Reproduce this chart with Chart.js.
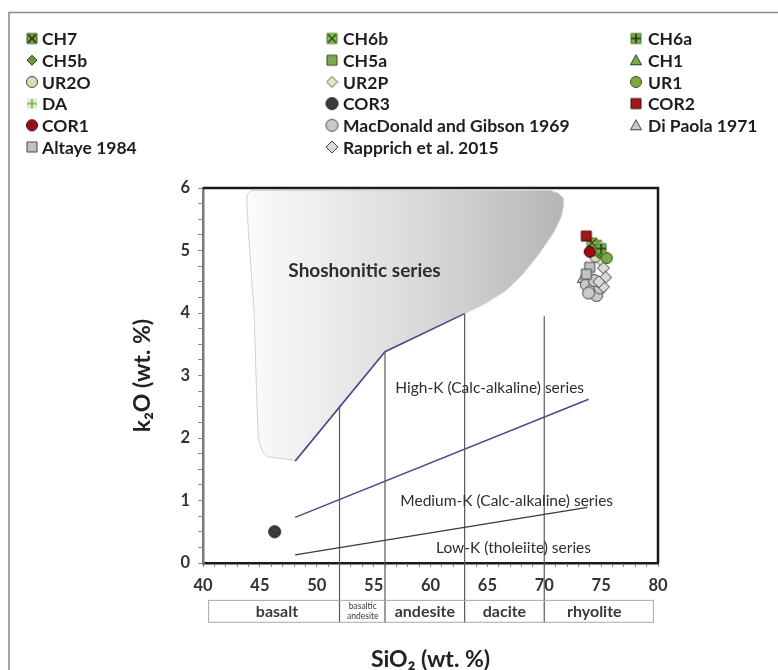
<!DOCTYPE html>
<html>
<head>
<meta charset="utf-8">
<script src="https://cdn.jsdelivr.net/npm/chart.js@4.4.1/dist/chart.umd.min.js"></script>
<style>
  html, body { margin: 0; padding: 0; background: #fff; }
  #wrap { width: 778px; height: 670px; position: relative; }
</style>
</head>
<body>
<div id="wrap"><canvas id="chart" width="778" height="670"></canvas></div>
<script>
// ---- values ----
const sampleNames = ['CH7', 'CH6b', 'CH6a', 'CH5b', 'CH5a', 'CH1', 'UR2O', 'UR2P', 'UR1', 'DA',
  'COR3', 'COR2', 'COR1', 'MacDonald and Gibson 1969', 'Di Paola 1971', 'Altaye 1984', 'Rapprich et al. 2015'];
const sampleSiO2 = [[74.6], [74.2], [75.0], [74.8], [74.4], [75.0], [74.5], [74.9], [75.5], [74.8],
  [46.3], [73.7], [74.0], [73.7, 74.2, 74.6, 73.9, 74.9, 74.4], [73.4], [74.0, 73.7], [75.2, 75.4, 75.2, 74.8]];
const sampleK2O = [[5.08], [5.12], [5.03], [4.95], [5.0], [4.92], [4.9], [4.85], [4.88], [5.06],
  [0.5], [5.23], [4.98], [4.45, 4.37, 4.28, 4.32, 4.40, 4.52], [4.56], [4.73, 4.62], [4.72, 4.57, 4.42, 4.5]];

// shoshonitic field outline
const shoshSiO2 = [48.1, 46.8, 45.7, 45.3, 45.0, 44.86, 44.66, 44.5, 44.1, 43.85, 43.9, 44.2,
  70.5, 71.2, 71.65, 71.7, 71.5, 70.8, 69.6, 68.2, 66.7, 64.9, 63.0, 56.0];
const shoshK2O = [1.64, 1.675, 1.7, 1.76, 1.9, 2.0, 3.0, 4.0, 5.0, 5.75, 5.9, 5.96,
  5.96, 5.92, 5.84, 5.73, 5.54, 5.28, 4.96, 4.64, 4.37, 4.16, 3.99, 3.38];

// series boundaries
const shoshLineSiO2 = [48.1, 56, 63];
const shoshLineK2O = [1.63, 3.38, 3.99];
const highKSiO2 = [48.1, 73.9];
const highKK2O = [0.73, 2.62];
const lowKSiO2 = [48.1, 73.8];
const lowKK2O = [0.13, 0.89];

// rock name dividers
const dividerSiO2 = [52, 56, 63, 70];
const dividerTopK2O = [2.52, 3.38, 3.99, 3.95];
const dividerBottomK2O = -0.95;

const rockNames = ['basalt', 'basaltic andesite', 'andesite', 'dacite', 'rhyolite'];
const rockCenters = [46.5, 54.05, 59.5, 66.5, 74.4];

const seriesLabels = ['Shoshonitic series', 'High-K (Calc-alkaline) series', 'Medium-K (Calc-alkaline) series', 'Low-K (tholeiite) series'];
const seriesLabelSiO2 = [54.2, 65.2, 66.7, 67.3];
const seriesLabelK2O = [4.67, 2.8, 1.0, 0.24];

// ---- marker styles ----
const markerStyles = [
  { shape: 'square', fill: '#78a548', stroke: '#3d5a22', inner: 'x', innerColor: '#1f2f12' },
  { shape: 'square', fill: '#8cc05a', stroke: '#4c7a2a', inner: 'x', innerColor: '#2f4f18' },
  { shape: 'square', fill: '#7aaa42', stroke: '#4c7a2a', inner: '+', innerColor: '#22361a' },
  { shape: 'diamond', fill: '#6a9a3a', stroke: '#2e3e22', size: 10 },
  { shape: 'square', fill: '#7aaa4a', stroke: '#3a4a2a' },
  { shape: 'triangle', fill: '#7aaa4a', stroke: '#2e3e22' },
  { shape: 'circle', fill: '#cfe3b0', stroke: '#444' },
  { shape: 'diamond', fill: '#dcebc0', stroke: '#555', size: 11 },
  { shape: 'circle', fill: '#7aaa40', stroke: '#3c4c2c' },
  { shape: 'square', fill: '#dcefc8', stroke: null, inner: '+', innerColor: '#7fb050' },
  { shape: 'circle', fill: '#3c3c3c', stroke: '#1c1c1c', size: 13 },
  { shape: 'square', fill: '#a01818', stroke: '#4a0c0c' },
  { shape: 'circle', fill: '#9a1010', stroke: '#3a0606' },
  { shape: 'circle', fill: '#cacaca', stroke: '#444', size: 13 },
  { shape: 'triangle', fill: '#c8c8c8', stroke: '#444' },
  { shape: 'square', fill: '#c2c2c2', stroke: '#444' },
  { shape: 'diamond', fill: '#d8d8d8', stroke: '#444', size: 12 }
];
const drawOrder = [10, 9, 8, 12, 11, 13, 12, 12, 11, 9, 5, 4, 5, 30, 31, 22, 28];

function makeMarker(m) {
  const s = m.size || 12;
  const c = document.createElement('canvas');
  c.width = c.height = s + 2;
  const g = c.getContext('2d');
  const h = (s + 2) / 2, r = s / 2;
  g.fillStyle = m.fill;
  g.strokeStyle = m.stroke || m.fill;
  g.lineWidth = 1;
  g.beginPath();
  if (m.shape === 'circle') g.arc(h, h, r - 0.5, 0, Math.PI * 2);
  else if (m.shape === 'square') g.rect(h - r + 1, h - r + 1, s - 2, s - 2);
  else if (m.shape === 'diamond') { g.moveTo(h, h - r); g.lineTo(h + r, h); g.lineTo(h, h + r); g.lineTo(h - r, h); g.closePath(); }
  else if (m.shape === 'triangle') { g.moveTo(h, h - r + 0.5); g.lineTo(h + r - 0.5, h + r * 0.75); g.lineTo(h - r + 0.5, h + r * 0.75); g.closePath(); }
  g.fill();
  if (m.stroke) g.stroke();
  if (m.inner) {
    const k = r - 2.2;
    g.strokeStyle = m.innerColor;
    g.lineWidth = 1.6;
    g.beginPath();
    if (m.inner === 'x') { g.moveTo(h - k, h - k); g.lineTo(h + k, h + k); g.moveTo(h + k, h - k); g.lineTo(h - k, h + k); }
    else { g.moveTo(h, h - k - 1); g.lineTo(h, h + k + 1); g.moveTo(h - k - 1, h); g.lineTo(h + k + 1, h); }
    g.stroke();
  }
  return c;
}
const markers = markerStyles.map(makeMarker);

const pts = (xs, ys) => xs.map((x, i) => ({ x: x, y: ys[i] }));

const FONT = 'Lato, "Open Sans", sans-serif';

// ---- datasets ----
const datasets = [];
datasets.push({
  label: 'shoshonitic field',
  type: 'line',
  data: pts(shoshSiO2, shoshK2O),
  fill: 'shape',
  borderColor: '#d2d2d2',
  borderWidth: 1,
  pointRadius: 0,
  tension: 0,
  order: 100,
  backgroundColor: ctx => {
    const chart = ctx.chart;
    if (!chart.chartArea) return '#ddd';
    const xs = chart.scales.x;
    const gr = chart.ctx.createLinearGradient(xs.getPixelForValue(44), 0, xs.getPixelForValue(72), 0);
    gr.addColorStop(0, '#fbfbfb');
    gr.addColorStop(0.55, '#d9d9d9');
    gr.addColorStop(1, '#b4b4b4');
    return gr;
  }
});
datasets.push({ label: 'shoshonitic boundary', type: 'line', data: pts(shoshLineSiO2, shoshLineK2O),
  borderColor: '#4b4a8f', borderWidth: 1.6, pointRadius: 0, fill: false, order: 50 });
datasets.push({ label: 'high-K boundary', type: 'line', data: pts(highKSiO2, highKK2O),
  borderColor: '#4b4a8f', borderWidth: 1.6, pointRadius: 0, fill: false, order: 50 });
datasets.push({ label: 'low-K boundary', type: 'line', data: pts(lowKSiO2, lowKK2O),
  borderColor: '#3a3a3a', borderWidth: 1.5, pointRadius: 0, fill: false, order: 50 });
dividerSiO2.forEach((x, i) => {
  datasets.push({ label: 'divider ' + x, type: 'line',
    data: pts([x, x], [dividerBottomK2O, dividerTopK2O[i]]),
    borderColor: '#5a5a5a', borderWidth: 1.2, pointRadius: 0, fill: false, clip: false, order: 60 });
});
sampleNames.forEach((name, i) => {
  datasets.push({
    label: name,
    type: 'scatter',
    data: pts(sampleSiO2[i], sampleK2O[i]),
    pointStyle: markers[i],
    pointRadius: 6,
    order: drawOrder[i]
  });
});

// ---- plugins ----
const decorPlugin = {
  id: 'decor',
  afterDatasetsDraw(chart) {
    const { ctx, chartArea: a, scales: { x, y } } = chart;
    ctx.save();
    ctx.fillStyle = '#2e2e2e';
    ctx.textAlign = 'center';
    ctx.textBaseline = 'middle';
    seriesLabels.forEach((t, i) => {
      ctx.font = (i === 0 ? 'bold 19px ' : '15.5px ') + FONT;
      ctx.fillText(t, x.getPixelForValue(seriesLabelSiO2[i]), y.getPixelForValue(seriesLabelK2O[i]));
    });
    // plot frame
    ctx.strokeStyle = '#1a1a1a';
    ctx.lineWidth = 2.5;
    ctx.beginPath();
    ctx.moveTo(a.left, a.top);
    ctx.lineTo(a.right, a.top);
    ctx.lineTo(a.right, a.bottom);
    ctx.stroke();
    ctx.restore();
  },
  afterDraw(chart) {
    const { ctx, scales: { x, y } } = chart;
    ctx.save();
    // rock name box
    const bx0 = x.getPixelForValue(40.45), bx1 = x.getPixelForValue(79.55);
    const by0 = y.getPixelForValue(-0.59), by1 = y.getPixelForValue(-0.94);
    ctx.strokeStyle = '#a8a8a8';
    ctx.lineWidth = 1;
    ctx.strokeRect(bx0 + 0.5, by0 + 0.5, bx1 - bx0, by1 - by0);
    ctx.fillStyle = '#3a3a3a';
    ctx.textAlign = 'center';
    ctx.textBaseline = 'middle';
    const ym = (by0 + by1) / 2;
    rockNames.forEach((t, i) => {
      const cx = x.getPixelForValue(rockCenters[i]);
      if (t === 'basaltic andesite') {
        ctx.font = '8.5px ' + FONT;
        ctx.fillText('basaltic', cx, ym - 5);
        ctx.fillText('andesite', cx, ym + 5);
      } else {
        ctx.font = 'bold 16px ' + FONT;
        ctx.fillText(t, cx, ym + 1);
      }
    });
    // legend
    const colText = [42, 343, 648], colMark = [32, 332, 636];
    ctx.textAlign = 'left';
    ctx.font = 'bold 17.5px ' + FONT;
    ctx.fillStyle = '#1e1e1e';
    sampleNames.forEach((name, i) => {
      const c = i % 3, r = Math.floor(i / 3);
      const yy = 38.5 + r * 21.7;
      const img = markers[i];
      ctx.drawImage(img, colMark[c] - img.width / 2, yy - img.height / 2);
      ctx.fillText(name, colText[c], yy + 1);
    });
    // outer figure frame
    ctx.strokeStyle = '#8c8c8c';
    ctx.lineWidth = 1.6;
    ctx.beginPath();
    ctx.moveTo(9, 670);
    ctx.lineTo(9, 12.5);
    ctx.lineTo(778, 12.5);
    ctx.stroke();
    ctx.restore();
  }
};

new Chart(document.getElementById('chart'), {
  type: 'scatter',
  data: { datasets: datasets },
  options: {
    responsive: false,
    animation: false,
    devicePixelRatio: 1,
    layout: { padding: { top: 188, right: 120, left: 0, bottom: 0 } },
    plugins: { legend: { display: false }, tooltip: { enabled: false } },
    scales: {
      x: {
        type: 'linear',
        min: 40, max: 80,
        afterFit: s => { s.height = 107; },
        border: { display: true, color: '#1a1a1a', width: 2.5 },
        grid: { drawOnChartArea: false, drawTicks: true, tickLength: 4, tickColor: '#888' },
        ticks: {
          stepSize: 1, autoSkip: false, maxRotation: 0, padding: 9,
          color: '#333', font: { family: FONT, size: 16.5, weight: 'bold' },
          callback: v => (v % 5 === 0 ? v : '')
        },
        title: { display: true, text: 'SiO₂ (wt. %)', color: '#222',
          font: { family: FONT, size: 23, weight: 'bold', lineHeight: 1 }, padding: { top: 0, bottom: -1 } }
      },
      y: {
        type: 'linear',
        min: 0, max: 6,
        afterFit: s => { s.width = 203; },
        border: { display: true, color: '#7a7a7a', width: 2.5 },
        grid: { drawOnChartArea: false, drawTicks: true, tickLength: 5, tickColor: '#888' },
        ticks: {
          stepSize: 0.25, autoSkip: false, padding: 8,
          color: '#333', font: { family: FONT, size: 16.5, weight: 'bold' },
          callback: v => (Number.isInteger(v) ? v : '')
        },
        title: { display: true, text: 'k₂O (wt. %)', color: '#222',
          font: { family: FONT, size: 23, weight: 'bold', lineHeight: 1 }, padding: { top: 131, bottom: 0 } }
      }
    }
  },
  plugins: [decorPlugin]
});
</script>
</body>
</html>
